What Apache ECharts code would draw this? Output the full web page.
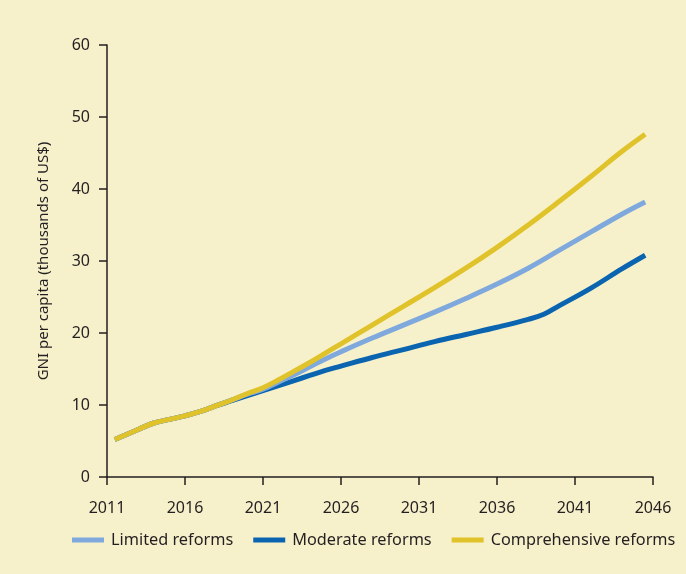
<!DOCTYPE html>
<html>
<head>
<meta charset="utf-8">
<script src="https://cdn.jsdelivr.net/npm/echarts@6/dist/echarts.min.js"></script>
<style>
html,body{margin:0;padding:0;background:#f7f1cb;}
#c{width:686px;height:574px;}
</style>
</head>
<body>
<div id="c"></div>
<script>
var seriesNames = ['Limited reforms', 'Moderate reforms', 'Comprehensive reforms'];
var xTicks = [2011, 2016, 2021, 2026, 2031, 2036, 2041, 2046];

var commonYears = [2011.5, 2013, 2014, 2015, 2016, 2017, 2018];
var commonValues = [5.2, 6.6, 7.5, 8.0, 8.5, 9.1, 9.9];

var limitedYears = [2019, 2020, 2021, 2022, 2023, 2024, 2025, 2026, 2028, 2030, 2032, 2034, 2036, 2038, 2040, 2042, 2044, 2045.5];
var limitedValues = [10.7, 11.5, 12.2, 13.2, 14.2, 15.3, 16.4, 17.4, 19.3, 21.1, 22.9, 24.8, 26.8, 29.0, 31.5, 34.0, 36.5, 38.2];

var moderateYears = [2019, 2020, 2021, 2022, 2023, 2024, 2025, 2026, 2028, 2030, 2032, 2034, 2036, 2038, 2039, 2040, 2042, 2044, 2045.5];
var moderateValues = [10.6, 11.3, 12.0, 12.7, 13.4, 14.1, 14.8, 15.4, 16.6, 17.7, 18.8, 19.8, 20.8, 21.9, 22.6, 23.8, 26.2, 28.9, 30.8];

var comprehensiveYears = [2019, 2020, 2021, 2022, 2023, 2024, 2025, 2026, 2028, 2030, 2032, 2034, 2036, 2038, 2040, 2042, 2044, 2045.5];
var comprehensiveValues = [10.7, 11.6, 12.4, 13.5, 14.7, 15.9, 17.2, 18.5, 21.1, 23.7, 26.3, 29.0, 31.9, 35.0, 38.3, 41.7, 45.2, 47.6];

var colors = {limited: '#7fa9dd', moderate: '#0a64b0', comprehensive: '#e0c22a'};

function build(years, values) {
  var yrs = commonYears.concat(years);
  var vals = commonValues.concat(values);
  return yrs.map(function (y, i) { return [y, vals[i]]; });
}

var font = 'Noto Sans';
var textColor = '#231f20';

var chart = echarts.init(document.getElementById('c'), null, {renderer: 'canvas'});
chart.setOption({
  backgroundColor: '#f7f1cb',
  animation: false,
  textStyle: {fontFamily: font, color: textColor},
  grid: {left: 107, right: 33, top: 45, bottom: 97, containLabel: false},
  legend: {
    data: seriesNames,
    left: 67, top: 527,
    icon: 'rect',
    itemWidth: 32, itemHeight: 5, itemGap: 20,
    textStyle: {fontFamily: font, fontSize: 16.3, color: textColor, padding: [0, 0, 0, 2]}
  },
  xAxis: {
    type: 'value', min: 2011, max: 2046, interval: 5,
    axisLine: {show: true, lineStyle: {color: '#231f20', width: 1.5}},
    axisTick: {show: true, length: 8, lineStyle: {color: '#231f20', width: 1.5}},
    splitLine: {show: false},
    axisLabel: {margin: 23, fontSize: 16, color: textColor, fontFamily: font,
      formatter: function (v) { return xTicks.indexOf(v) >= 0 ? String(v) : ''; }}
  },
  yAxis: {
    type: 'value', min: 0, max: 60, interval: 10,
    name: 'GNI per capita (thousands of US$)',
    nameLocation: 'middle', nameGap: 56,
    nameTextStyle: {fontSize: 15, color: textColor, fontFamily: font},
    axisLine: {show: true, lineStyle: {color: '#231f20', width: 1.5}},
    axisTick: {show: true, length: 8, lineStyle: {color: '#231f20', width: 1.5}},
    splitLine: {show: false},
    axisLabel: {margin: 17, fontSize: 16, color: textColor, fontFamily: font}
  },
  series: [
    {name: 'Moderate reforms', type: 'line', smooth: 0.4, showSymbol: false,
     data: build(moderateYears, moderateValues), itemStyle: {color: colors.moderate},
     lineStyle: {color: colors.moderate, width: 5}},
    {name: 'Limited reforms', type: 'line', smooth: 0.4, showSymbol: false,
     data: build(limitedYears, limitedValues), itemStyle: {color: colors.limited},
     lineStyle: {color: colors.limited, width: 5}},
    {name: 'Comprehensive reforms', type: 'line', smooth: 0.4, showSymbol: false,
     data: build(comprehensiveYears, comprehensiveValues), itemStyle: {color: colors.comprehensive},
     lineStyle: {color: colors.comprehensive, width: 5}}
  ]
});
</script>
</body>
</html>
